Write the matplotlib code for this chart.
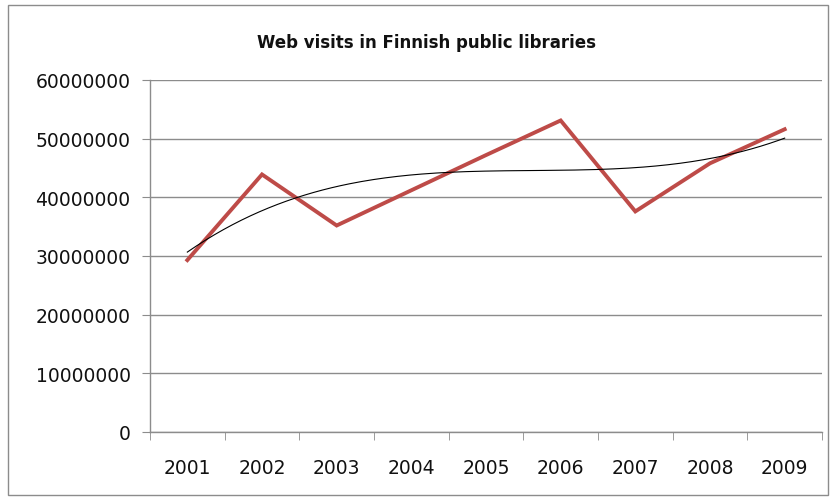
import numpy as np
import matplotlib
matplotlib.use("Agg")
import matplotlib.pyplot as plt
from matplotlib.patches import Rectangle

years = ["2001", "2002", "2003", "2004", "2005", "2006", "2007", "2008", "2009"]
visits = [29300000, 43900000, 35200000, 41200000, 47200000, 53100000, 37600000, 45800000, 51600000]
yticks = [0, 10000000, 20000000, 30000000, 40000000, 50000000, 60000000]
title = "Web visits in Finnish public libraries"

fig = plt.figure(figsize=(8.37, 5.02), dpi=100)
fig.patch.set_facecolor("white")
fig.add_artist(Rectangle((8 / 837, 6 / 502), 820 / 837, 490 / 502, transform=fig.transFigure,
                         fill=False, edgecolor="#8c8c8c", linewidth=1.0))

ax = fig.add_axes([150 / 837, (502 - 433) / 502, 672 / 837, 352 / 502])
x = np.arange(len(years)) + 0.5
ax.plot(x, visits, color="#BE4B48", linewidth=2.8, solid_joinstyle="miter", zorder=3)

# polynomial trendline (order 3) fitted to the data
coef = np.polyfit(np.arange(1, len(years) + 1), visits, 3)
xs = np.linspace(1, len(years), 200)
ax.plot(xs - 0.5, np.polyval(coef, xs), color="black", linewidth=0.8, zorder=4)

ax.set_xlim(0, len(years))
ax.set_ylim(0, 60000000)
ax.set_yticks(yticks)
ax.set_yticklabels([str(v) for v in yticks])
ax.set_xticks(x)
ax.set_xticklabels(years)
ax.set_xticks(np.arange(len(years) + 1), minor=True)
ax.grid(axis="y", color="#8c8c8c", linewidth=1.0)
ax.set_axisbelow(True)
for s in ["top", "right"]:
    ax.spines[s].set_visible(False)
for s in ["left", "bottom"]:
    ax.spines[s].set_color("#8c8c8c")
    ax.spines[s].set_linewidth(1.0)
ax.tick_params(axis="y", length=6, color="#8c8c8c", pad=8, labelsize=13.5)
ax.tick_params(axis="x", which="major", length=0, pad=19, labelsize=13.5)
ax.tick_params(axis="x", which="minor", length=6, color="#8c8c8c")
for lab in ax.get_xticklabels() + ax.get_yticklabels():
    lab.set_fontfamily("DejaVu Sans")
    lab.set_color("#111111")

fig.text(427 / 837, 1 - 43 / 502, title, ha="center", va="center", fontsize=12,
         fontweight="bold", fontfamily="DejaVu Sans", color="#111111")

fig.savefig("out.png", dpi=100)
